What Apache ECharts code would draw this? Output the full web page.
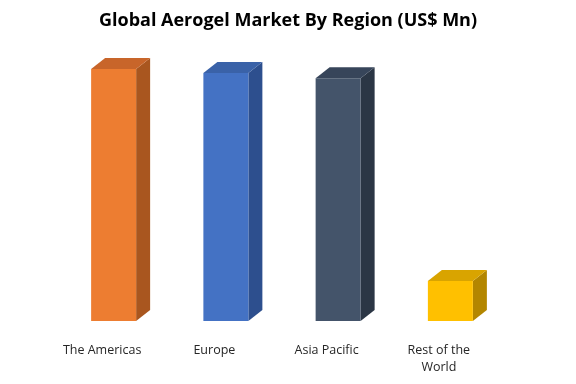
<!DOCTYPE html>
<html>
<head>
<meta charset="utf-8">
<script src="https://cdn.jsdelivr.net/npm/echarts@6/dist/echarts.min.js"></script>
<style>html,body{margin:0;padding:0;background:#fff}#c{width:576px;height:384px}</style>
</head>
<body>
<div id="c"></div>
<script>
var categories = ['The Americas', 'Europe', 'Asia Pacific', 'Rest of the World'];
var values = [630, 620, 607, 100];
var frontColors = ['#ED7D31', '#4472C4', '#44546A', '#FFC000'];
var sideColors = ['#A9561F', '#2D4F8E', '#2B3645', '#B38600'];
var topColors = ['#C8652A', '#3A62A8', '#37455A', '#D9A400'];

var chart = echarts.init(document.getElementById('c'));
var DX = 14, DY = -11, W = 45, OFF = 11.5;

chart.setOption({
  animation: false,
  title: {
    text: 'Global Aerogel Market By Region (US$ Mn)',
    left: 'center', top: 7,
    textStyle: { fontFamily: 'Open Sans', fontSize: 18, fontWeight: 'bold', color: '#000' }
  },
  grid: { left: 46, right: 81, top: 41, bottom: 63 },
  xAxis: {
    type: 'category', data: categories,
    axisLine: { show: false }, axisTick: { show: false },
    axisLabel: {
      margin: 21, fontFamily: 'Open Sans', fontSize: 12.5, color: '#262626', lineHeight: 17,
      formatter: function (v) { return v === 'Rest of the World' ? 'Rest of the\nWorld' : v; }
    }
  },
  yAxis: { type: 'value', min: 0, max: 700, show: false, splitLine: { show: false } },
  series: [{
    type: 'custom',
    data: values.map(function (v, i) { return [i, v]; }),
    renderItem: function (params, api) {
      var i = api.value(0);
      var top = api.coord([i, api.value(1)]);
      var base = api.coord([i, 0]);
      var cx = top[0] + OFF;
      var x0 = cx - W / 2, x1 = cx + W / 2;
      var yt = top[1], yb = base[1];
      return {
        type: 'group',
        children: [
          { type: 'polygon', shape: { points: [[x1, yt], [x1 + DX, yt + DY], [x1 + DX, yb + DY], [x1, yb]] },
            style: { fill: sideColors[i] } },
          { type: 'polygon', shape: { points: [[x0, yt], [x0 + DX, yt + DY], [x1 + DX, yt + DY], [x1, yt]] },
            style: { fill: topColors[i] } },
          { type: 'rect', shape: { x: x0, y: yt, width: W, height: yb - yt },
            style: { fill: frontColors[i] } }
        ]
      };
    }
  }]
});
</script>
</body>
</html>
